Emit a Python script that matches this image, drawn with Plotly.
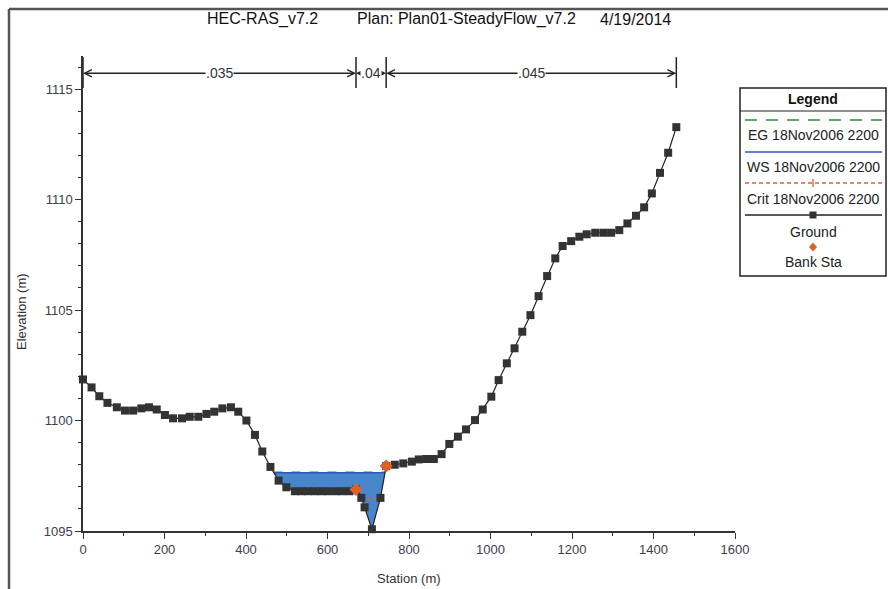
import numpy as np
import plotly.graph_objects as go

# ---------------- data ----------------
title_parts = ["HEC-RAS_v7.2", "Plan: Plan01-SteadyFlow_v7.2", "4/19/2014"]
profile = "18Nov2006 2200"

ground_sta = [0, 21, 40, 60, 83, 103, 123, 143, 162, 181, 201, 221, 243, 262, 283,
              303, 322, 342, 363, 381, 401, 422, 440, 460, 480, 499, 520, 536, 552,
              569, 585, 601, 620, 636, 654, 670, 683, 691, 709, 730, 744, 765, 786,
              807, 824, 842, 861, 880, 899, 920, 940, 962, 981, 1002, 1020, 1040,
              1059, 1078, 1098, 1118, 1139, 1159, 1177, 1198, 1218, 1236, 1257,
              1277, 1296, 1316, 1336, 1357, 1377, 1396, 1416, 1436, 1456]
ground_elev = [1101.86, 1101.5, 1101.1, 1100.8, 1100.6, 1100.45, 1100.45, 1100.55,
               1100.6, 1100.5, 1100.25, 1100.1, 1100.1, 1100.17, 1100.17, 1100.3,
               1100.4, 1100.55, 1100.6, 1100.4, 1100.0, 1099.35, 1098.6, 1097.9,
               1097.28, 1096.98, 1096.8, 1096.8, 1096.8, 1096.8, 1096.8, 1096.8,
               1096.8, 1096.8, 1096.8, 1096.88, 1096.5, 1096.07, 1095.08, 1096.5,
               1097.94, 1098.0, 1098.06, 1098.14, 1098.24, 1098.26, 1098.26, 1098.48,
               1098.94, 1099.27, 1099.6, 1100.02, 1100.5, 1101.08, 1101.83, 1102.59,
               1103.27, 1104.02, 1104.77, 1105.63, 1106.54, 1107.34, 1107.9, 1108.12,
               1108.32, 1108.43, 1108.5, 1108.5, 1108.5, 1108.62, 1108.92, 1109.27,
               1109.65, 1110.28, 1111.21, 1112.12, 1113.28]
bank_sta = [670, 744]
n_values = [".035", ".04", ".045"]
ws_elev = 1097.64
eg_elev = 1097.67
crit_elev = 1096.45

x_ticks = [0, 200, 400, 600, 800, 1000, 1200, 1400, 1600]
y_ticks = [1095, 1100, 1105, 1110, 1115]

# ---------------- helpers ----------------
W, H = 888, 589
L, R, T, B = 83, 735, 56, 531


def px(x):
    return (x - L) / (R - L)


def py(y):
    return (B - y) / (B - T)


gs = np.array(ground_sta, float)
ge = np.array(ground_elev, float)


def wet_extent(elev):
    i0 = int(np.argmin(ge))
    i = i0
    while i > 0 and ge[i - 1] < elev:
        i -= 1
    j = i0
    while j < len(ge) - 1 and ge[j + 1] < elev:
        j += 1
    a, b = i - 1, i
    xl = gs[a] + (elev - ge[a]) * (gs[b] - gs[a]) / (ge[b] - ge[a])
    a, b = j, j + 1
    xr = gs[a] + (elev - ge[a]) * (gs[b] - gs[a]) / (ge[b] - ge[a])
    return xl, xr, i, j


FONT = "Liberation Sans, Arial, sans-serif"
fig = go.Figure()

# water fill
xl, xr, i, j = wet_extent(ws_elev)
poly_x = [xl] + list(gs[i:j + 1]) + [xr]
poly_y = [ws_elev] + list(ge[i:j + 1]) + [ws_elev]
fig.add_trace(go.Scatter(x=poly_x, y=poly_y, fill="toself", mode="none",
                         fillcolor="rgb(72,134,204)", showlegend=False, hoverinfo="skip"))
# EG
exl, exr, _, _ = wet_extent(eg_elev)
fig.add_trace(go.Scatter(x=[exl, exr], y=[eg_elev, eg_elev], mode="lines",
                         line=dict(color="#2e8b3e", width=1.2, dash="dash"), showlegend=False))
# WS
fig.add_trace(go.Scatter(x=[xl, xr], y=[ws_elev, ws_elev], mode="lines",
                         line=dict(color="#2a5ab8", width=1.5), showlegend=False))
# Crit
cxl, cxr, _, _ = wet_extent(crit_elev)
fig.add_trace(go.Scatter(x=[cxl, cxr], y=[crit_elev, crit_elev], mode="lines",
                         line=dict(color="#e0602a", width=1.5, dash="dot"), showlegend=False))
# Ground
fig.add_trace(go.Scatter(x=ground_sta, y=ground_elev, mode="lines+markers",
                         line=dict(color="#222222", width=1.2),
                         marker=dict(symbol="square", size=8, color="#333333"),
                         cliponaxis=False, showlegend=False))
# Bank stations
bank_elev = list(np.interp(bank_sta, gs, ge))
fig.add_trace(go.Scatter(x=bank_sta, y=bank_elev, mode="markers",
                         marker=dict(symbol="diamond", size=10, color="#e0602a"),
                         cliponaxis=False, showlegend=False))

shapes = []
annotations = []

# n-value bars & arrows
n_bounds = [ground_sta[0]] + bank_sta + [ground_sta[-1]]
bar_lo, bar_hi, arrow_y = 1115.05, 1116.45, 1115.72
for s in n_bounds:
    shapes.append(dict(type="line", xref="x", yref="y", x0=s, x1=s, y0=bar_lo, y1=bar_hi,
                       line=dict(color="#222", width=1.5)))
for k, nv in enumerate(n_values):
    a, b = n_bounds[k], n_bounds[k + 1]
    mid = (a + b) / 2
    for end in (a, b):
        annotations.append(dict(x=end, y=arrow_y, ax=mid, ay=arrow_y, axref="x", ayref="y",
                                xref="x", yref="y", text="", showarrow=True, arrowhead=5,
                                arrowsize=1.1, arrowwidth=1.3, arrowcolor="#222", standoff=0))
for k, nv in enumerate(n_values):
    a, b = n_bounds[k], n_bounds[k + 1]
    mid = (a + b) / 2
    annotations.append(dict(x=mid, y=arrow_y, xref="x", yref="y", text=nv, showarrow=False,
                            bgcolor="white", borderpad=0, xanchor="center", yanchor="middle",
                            font=dict(family=FONT, size=14, color="#333")))

# title
for txt, xleft in zip(title_parts, [205, 355, 598]):
    annotations.append(dict(x=px(xleft), y=py(19), xref="paper", yref="paper", text=txt,
                            showarrow=False, xanchor="left", yanchor="middle",
                            font=dict(family=FONT, size=16, color="#111")))

# axis titles
annotations.append(dict(x=px(409), y=py(578), xref="paper", yref="paper", text="Station (m)",
                        showarrow=False, xanchor="center", yanchor="middle",
                        font=dict(family=FONT, size=13, color="#333")))
annotations.append(dict(x=px(21), y=py(311), xref="paper", yref="paper", text="Elevation (m)",
                        showarrow=False, xanchor="center", yanchor="middle", textangle=-90,
                        font=dict(family=FONT, size=13, color="#333")))

# outer frame (top and left)
shapes.append(dict(type="line", xref="paper", yref="paper", x0=px(9), x1=px(888), y0=py(9), y1=py(9),
                   line=dict(color="#555", width=2.5)))
shapes.append(dict(type="line", xref="paper", yref="paper", x0=px(9), x1=px(9), y0=py(9), y1=py(589),
                   line=dict(color="#555", width=2.5)))

# manual legend
LX0, LX1, LY0, LY1 = 740, 886, 88, 276
cx = (LX0 + LX1) / 2
shapes.append(dict(type="rect", xref="paper", yref="paper", x0=px(LX0), x1=px(LX1),
                   y0=py(LY0), y1=py(LY1), line=dict(color="#222", width=1.5), fillcolor="white"))
shapes.append(dict(type="line", xref="paper", yref="paper", x0=px(LX0), x1=px(LX1),
                   y0=py(111), y1=py(111), line=dict(color="#222", width=1.2)))
annotations.append(dict(x=px(cx), y=py(99), xref="paper", yref="paper", text="<b>Legend</b>",
                        showarrow=False, xanchor="center", yanchor="middle",
                        font=dict(family=FONT, size=14, color="#111")))
leg_items = [
    ("EG " + profile, 120, dict(color="#2e8b3e", width=1.5, dash="12px,9px"), None, 135),
    ("WS " + profile, 152, dict(color="#2a5ab8", width=1.5), None, 167),
    ("Crit " + profile, 183, dict(color="#e0602a", width=1.3, dash="4px,3px"), "plus", 199),
    ("Ground", 215, dict(color="#222", width=1.5), "square", 232),
    ("Bank Sta", 247, None, "diamond", 262),
]
for label, ly, lstyle, mk, ty in leg_items:
    if lstyle is not None:
        shapes.append(dict(type="line", xref="paper", yref="paper", x0=px(745), x1=px(882),
                           y0=py(ly), y1=py(ly), line=lstyle))
    if mk == "square":
        shapes.append(dict(type="rect", xref="paper", yref="paper", x0=px(cx - 3.5), x1=px(cx + 3.5),
                           y0=py(ly + 3.5), y1=py(ly - 3.5), line=dict(width=0), fillcolor="#333"))
    elif mk == "diamond":
        path = "M {} {} L {} {} L {} {} L {} {} Z".format(
            px(cx), py(ly - 4.5), px(cx + 4), py(ly), px(cx), py(ly + 4.5), px(cx - 4), py(ly))
        shapes.append(dict(type="path", xref="paper", yref="paper", path=path,
                           line=dict(width=0), fillcolor="#e0602a"))
    elif mk == "plus":
        shapes.append(dict(type="line", xref="paper", yref="paper", x0=px(cx), x1=px(cx),
                           y0=py(ly - 4), y1=py(ly + 4), line=dict(color="#e0602a", width=1.3)))
    annotations.append(dict(x=px(cx), y=py(ty), xref="paper", yref="paper", text=label,
                            showarrow=False, xanchor="center", yanchor="middle",
                            font=dict(family=FONT, size=14, color="#222")))

fig.update_layout(
    width=W, height=H, autosize=False,
    margin=dict(l=L, r=W - R, t=T, b=H - B, pad=0),
    paper_bgcolor="white", plot_bgcolor="white",
    shapes=shapes, annotations=annotations, showlegend=False,
    xaxis=dict(range=[0, 1600], tickvals=x_ticks, ticktext=[str(v) for v in x_ticks],
               ticks="outside", ticklen=6, tickwidth=1.2, tickcolor="#333",
               minor=dict(ticks="outside", ticklen=3, tickwidth=1.2, tickcolor="#333",
                          dtick=100, tick0=0, showgrid=False),
               showline=True, linecolor="#333", linewidth=1.5, showgrid=False, zeroline=False,
               tickfont=dict(family=FONT, size=13, color="#3d3d4a")),
    yaxis=dict(range=[1095, 1116.5], tickvals=y_ticks, ticktext=[str(v) for v in y_ticks],
               ticks="outside", ticklen=6, tickwidth=1.2, tickcolor="#333",
               minor=dict(ticks="outside", ticklen=3, tickwidth=1.2, tickcolor="#333",
                          dtick=1, tick0=1095, showgrid=False),
               showline=True, linecolor="#333", linewidth=1.5, showgrid=False, zeroline=False,
               tickfont=dict(family=FONT, size=13, color="#3d3d4a")),
)

fig.write_html("out.html", config={"displayModeBar": False},
               post_script=["document.body.style.margin='0px';"])
